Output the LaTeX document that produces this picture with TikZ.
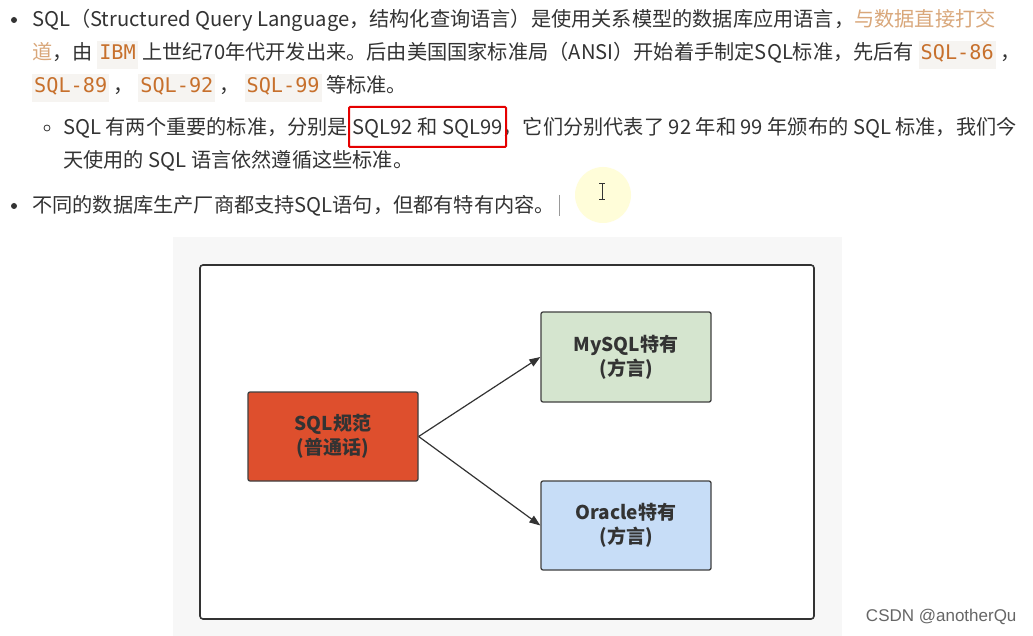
\documentclass[tikz,border=0pt]{standalone}
\usepackage{fontspec}
\setmainfont{Noto Sans CJK SC}
\newfontfamily\codefont{DejaVu Sans Mono}
\newfontfamily\wmfont{Liberation Sans}
\usetikzlibrary{arrows.meta}
\definecolor{txt}{HTML}{333333}
\definecolor{codeor}{HTML}{C7702C}
\definecolor{codebg}{HTML}{F6F4F1}
\definecolor{lor}{HTML}{D9A77A}
\definecolor{sqlred}{HTML}{DE4F2D}
\definecolor{mygreen}{HTML}{D5E5CF}
\definecolor{orblue}{HTML}{C7DDF7}
\newcommand{\cd}[1]{{\setlength{\fboxsep}{2pt}\colorbox{codebg}{\codefont\color{codeor}\strut #1}}}
\tikzset{
 line/.style={anchor=base west,inner sep=0pt,text=txt,font=\fontsize{20.2}{24}\selectfont},
 bul/.style={circle,fill=txt,inner sep=0pt,minimum size=6pt},
 sbul/.style={circle,draw=txt,line width=0.8pt,inner sep=0pt,minimum size=6pt},
 box/.style={draw=black!75,line width=1.3pt,rounded corners=2pt,text=black!80,align=center,font=\fontsize{19}{24}\selectfont\bfseries},
 arr/.style={-{Triangle[length=11pt,width=8pt]},line width=1.2pt,draw=black!80}
}
\begin{document}
\begin{tikzpicture}[x=1pt,y=-1pt]
\useasboundingbox[fill=white] (0,0) rectangle (1033,636);
% text
\node[bul] (b1) at (14,20) {};
\node[line] (l1) at (32,27) {SQL（Structured Query Language，结构化查询语言）是使用关系模型的数据库应用语言，\textcolor{lor}{与数据直接打交}};
\node[line] (l2) at (32,60) {\textcolor{lor}{道}，由 \cd{IBM} 上世纪70年代开发出来。后由美国国家标准局（ANSI）开始着手制定SQL标准，先后有 \cd{SQL-86} ，};
\node[line] (l3) at (32,93) {\cd{SQL-89} ， \cd{SQL-92} ， \cd{SQL-99} 等标准。};
\node[sbul] (b2) at (47,128) {};
\node[line] (l4) at (63,135) {SQL 有两个重要的标准，分别是 SQL92 和 SQL99，它们分别代表了 92 年和 99 年颁布的 SQL 标准，我们今};
\node[line] (l5) at (63,168) {天使用的 SQL 语言依然遵循这些标准。};
\node[bul] (b3) at (14,206) {};
\node[line] (l6) at (32,213) {不同的数据库生产厂商都支持SQL语句，但都有特有内容。};
\draw[red!90!black,line width=2pt,rounded corners=1pt] (349,107) rectangle (506,147);
\fill[yellow!15] (603,195) ellipse (28 and 28);
\draw[txt,line width=1pt] (602,184) -- (602,200) (599,184) -- (605,184) (599,200) -- (605,200);
\draw[black!40,line width=0.8pt] (559,195) -- (559,216);
% diagram
\fill[black!3] (173,237) rectangle (842,636);
\draw[black!80,line width=1.6pt,fill=white,rounded corners=3pt] (200,265) rectangle (814,619);
\node[box,fill=sqlred,minimum width=170pt,minimum height=89pt] (sql) at (333,436.5) {SQL规范\\(普通话)};
\node[box,fill=mygreen,minimum width=170pt,minimum height=90pt] (my) at (626,357) {MySQL特有\\(方言)};
\node[box,fill=orblue,minimum width=170pt,minimum height=89pt] (or) at (626,525.5) {Oracle特有\\(方言)};
\draw[arr] (sql.east) -- (my.west);
\draw[arr] (sql.east) -- (or.west);
\node[anchor=east,text=black!60,font=\wmfont\fontsize{17}{17}\selectfont] (wm) at (1020,617) {CSDN @anotherQu};
\end{tikzpicture}
\end{document}
